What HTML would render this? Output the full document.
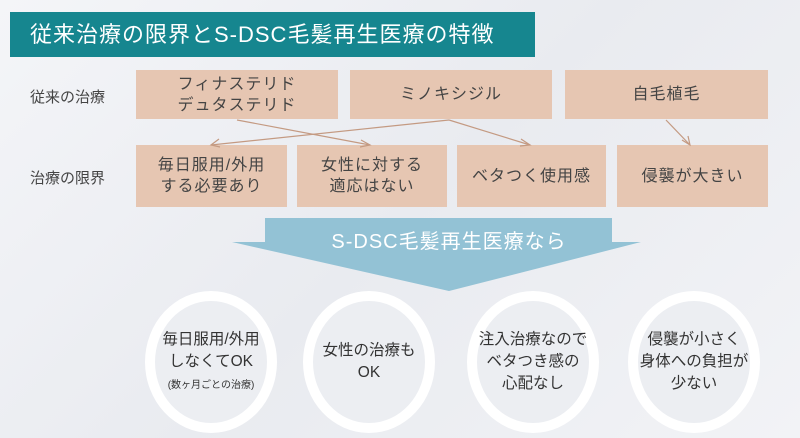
<!DOCTYPE html>
<html><head><meta charset="utf-8"><style>
body{margin:0;width:800px;height:438px;overflow:hidden;background:linear-gradient(135deg,#f4f5f8 0%,#e9ebf0 50%,#f2f3f6 100%);font-family:"Liberation Sans","Noto Sans CJK JP",sans-serif;position:relative}
.a{position:absolute}
.t{left:10px;top:12px;width:525px;height:45px;background:#16868f;color:#fff;font-size:22px;line-height:45px;padding-left:20px;box-sizing:border-box;letter-spacing:1px}
.b{position:absolute;background:#e6c6b2;color:#444;font-size:16px;display:flex;align-items:center;justify-content:center;text-align:center;line-height:21px;letter-spacing:1px}
.l{position:absolute;left:30px;font-size:15px;color:#444}
.c{position:absolute;width:112px;height:122px;border:10px solid #fff;border-radius:50%;display:flex;align-items:center;justify-content:center;text-align:center;color:#333;font-size:15.5px;line-height:22px;background:#eceef2}
.c div{white-space:nowrap}
</style></head><body>
<div class="a t">従来治療の限界とS-DSC毛髪再生医療の特徴</div>
<div class="l" style="top:86px">従来の治療</div>
<div class="l" style="top:167px">治療の限界</div>
<div class="b" style="left:136px;top:70px;width:202px;height:49px">フィナステリド<br>デュタステリド</div>
<div class="b" style="left:350px;top:70px;width:202px;height:49px">ミノキシジル</div>
<div class="b" style="left:565px;top:70px;width:203px;height:49px">自毛植毛</div>
<div class="b" style="left:136px;top:145px;width:151px;height:62px">毎日服用/外用<br>する必要あり</div>
<div class="b" style="left:297px;top:145px;width:150px;height:62px">女性に対する<br>適応はない</div>
<div class="b" style="left:457px;top:145px;width:149px;height:62px">ベタつく使用感</div>
<div class="b" style="left:617px;top:145px;width:151px;height:62px">侵襲が大きい</div>
<svg class="a" style="left:0;top:0" width="800" height="438">
<g stroke="#c49a82" stroke-width="1.2" fill="none">
<line x1="237" y1="120" x2="370" y2="145"/><polyline points="361,140 370,145 360,147"/>
<line x1="449" y1="120" x2="211" y2="145"/><polyline points="219,139 211,145 220,147"/>
<line x1="449" y1="120" x2="530" y2="145"/><polyline points="521,139 530,145 520,146"/>
<line x1="666" y1="120" x2="690" y2="145"/><polyline points="682,140 690,145 688,136"/>
</g>
<polygon points="265,218 612,218 612,242 641,242 449,291 232,242 265,242" fill="#93c2d5"/>
<text x="449" y="248" text-anchor="middle" fill="#fff" font-size="20" font-family="Liberation Sans, Noto Sans CJK JP, sans-serif" letter-spacing="1">S-DSC毛髪再生医療なら</text>
</svg>
<div class="c" style="left:145px;top:291px"><div>毎日服用/外用<br>しなくてOK<br><span style="font-size:10px;line-height:14px">(数ヶ月ごとの治療)</span></div></div>
<div class="c" style="left:303px;top:291px"><div>女性の治療も<br>OK</div></div>
<div class="c" style="left:467px;top:291px"><div>注入治療なので<br>ベタつき感の<br>心配なし</div></div>
<div class="c" style="left:628px;top:291px"><div>侵襲が小さく<br>身体への負担が<br>少ない</div></div>
</body></html>
